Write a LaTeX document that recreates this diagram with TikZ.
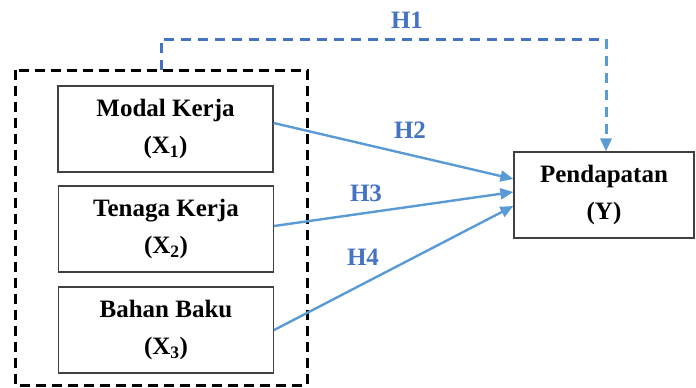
\documentclass[tikz,border=0pt]{standalone}
\usepackage{fontspec}
\setmainfont{Liberation Serif}
\usetikzlibrary{arrows.meta,calc}
\definecolor{hblue}{HTML}{4472C4}
\definecolor{lblue}{HTML}{5B9BD5}
\begin{document}
\begin{tikzpicture}[x=1pt,y=-1pt,
  varbox/.style={draw=black!75,line width=1.2pt,minimum width=215pt,minimum height=86pt,align=center,
    font=\fontsize{25}{37}\selectfont\bfseries,inner sep=0pt},
  hlab/.style={text=hblue,font=\fontsize{25}{30}\selectfont\bfseries,inner sep=0pt},
  link/.style={draw=lblue,line width=2.4pt,-{Triangle[length=13pt,width=11pt]}},
  grpbox/.style={draw=black,line width=3pt,dash pattern=on 10pt off 6pt}]
\useasboundingbox (0,0) rectangle (696,388);
\node[varbox] (m) at (165.5,129) {Modal Kerja\\(X\textsubscript{1})};
\node[varbox] (t) at (166,229) {Tenaga Kerja\\(X\textsubscript{2})};
\node[varbox] (b) at (166,330) {Bahan Baku\\(X\textsubscript{3})};
\node[varbox,minimum width=180pt] (y) at (604,195) {Pendapatan\\(Y)};
\draw[grpbox] (15,70) rectangle (307,385);
\coordinate (h1s) at (161,70);
\coordinate (h1a) at (161,39);
\coordinate (h1b) at (606,39);
\draw[draw=hblue,line width=3pt,dash pattern=on 10pt off 7pt] (h1s) -- (h1a) -- (h1b);
\draw[draw=lblue,line width=3pt,dash pattern=on 10pt off 7pt,-{Triangle[length=13pt,width=11pt]}] (h1b) -- (h1b |- y.north);
\draw[link] ($(m.east)+(0,-6)$) -- ($(y.west)+(0,-16)$);
\draw[link] ($(t.east)+(0,-3)$) -- ($(y.west)+(0,-3)$);
\draw[link] ($(b.east)+(0,0)$) -- ($(y.west)+(0,11)$);
\node[hlab] (l1) at (407,20) {H1};
\node[hlab] (l2) at (410,130) {H2};
\node[hlab] (l3) at (366,193) {H3};
\node[hlab] (l4) at (363,257) {H4};
\end{tikzpicture}
\end{document}
